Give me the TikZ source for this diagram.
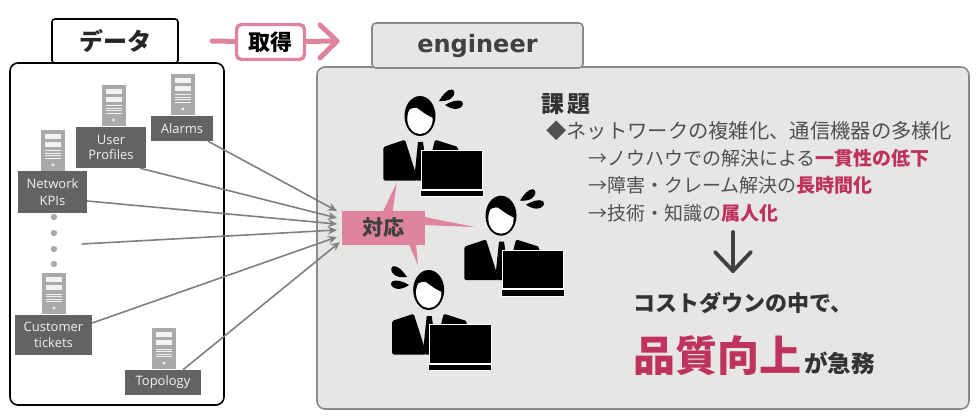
\documentclass[tikz,border=0pt]{standalone}
\usepackage{fontspec}
\setmainfont{Noto Sans CJK JP}
\newfontfamily\lat{Open Sans}
\newfontfamily\eng{DejaVu Sans}
\usetikzlibrary{arrows.meta}
\definecolor{pinkc}{HTML}{DF849D}
\definecolor{redc}{HTML}{BF325C}
\definecolor{panel}{HTML}{E6E6E6}
\definecolor{panelb}{HTML}{8A8A8A}
\definecolor{darkl}{HTML}{636363}
\definecolor{srv}{HTML}{A9A9A9}
\definecolor{txt}{HTML}{404040}
\definecolor{rowc}{HTML}{505050}
\definecolor{conn}{HTML}{808080}
\newcommand{\hl}[1]{{\bfseries\color{redc}#1}}
\newcommand{\lw}[1]{\raisebox{-1pt}{#1}}
\newcommand{\dropshape}{\fill (0,0) .. controls (6,-3.5) and (13,-6) .. (17,-3.5) .. controls (19.5,-1) and (17,3.5) .. (11,4) .. controls (7,4) and (3,2) .. (0,0) -- cycle;}
\tikzset{
  x=1pt,y=-1pt,
  lab/.style={fill=darkl,text=white!95!black,font=\lat\fontsize{13}{16}\selectfont,align=center,inner sep=0pt,minimum width=#1},
  lab/.default=60pt,
  flow/.style={draw=conn,line width=1.6pt,-{Stealth[length=9pt,width=8pt]}},
  rowt/.style={anchor=west,inner sep=0pt,text=rowc,font=\fontsize{19}{19}\selectfont},
  bigt/.style={anchor=west,inner sep=0pt,text=txt},
  pics/server/.style={code={
    \fill[srv] (0,0) rectangle (24,41);
    \fill[white!95!black] (4,4) rectangle (20,8.7);
    \fill[white!95!black] (4,12) rectangle (20,17);
    \fill[white!95!black] (4,20.5) rectangle (20,21.5);
    \fill[white!95!black] (4,23) rectangle (20,24);
    \fill[white!95!black] (4,25.5) rectangle (20,26.5);
    \fill[white!95!black] (4,28) rectangle (20,29);
    \fill[white!95!black] (12,35) circle (1.7);
  }},
  pics/person/.style={code={
    % head
    \fill[black] (0,0) ellipse [x radius=15.5, y radius=20];
    \begin{scope}
      \clip (0,2.5) ellipse [x radius=12.7, y radius=15.5];
      \fill[white] (-14,-5) .. controls (-9,-7) and (-6,-9) .. (-3,-8) .. controls (1,-5) and (6,-1) .. (14,2.5) -- (14,20) -- (-14,20) -- cycle;
    \end{scope}
    % torso
    \fill[black,rounded corners=1.5pt] (-36.7,64.5) -- (-36.7,31) -- (-15,23.7) -- (-5,55) -- (-2.5,64.5) -- cycle;
    \fill[black] (-5,55) -- (-2,26) -- (3,26) -- (5,40) -- (5,64.5) -- (-3,64.5) -- cycle;
    \fill[black,rounded corners=1.5pt] (12,36) -- (15,23.7) -- (38,31) -- (38,40) -- cycle;
    % laptop
    \fill[black,draw=white,line width=0.8pt] (1,34.6) rectangle (62.3,73);
    \fill[black,draw=white,line width=0.8pt] (0,74) rectangle (63,80.3);
  }}
}
\begin{document}
\begin{tikzpicture}
\useasboundingbox (0,0) rectangle (980,417);
\fill[white] (0,0) rectangle (980,417);

% panels
\node[draw=black,fill=white,line width=1.6pt,rounded corners=3pt,minimum width=126pt,minimum height=44pt,inner sep=0pt,font=\bfseries\fontsize{24}{24}\selectfont,text=black!85] (dhead) at (115,41) {データ};
\draw[black,line width=1.6pt,fill=white,rounded corners=8pt] (10,63) rectangle (224,405);
\draw[panelb,line width=1.6pt,fill=panel,rounded corners=8pt] (317,67) rectangle (969,409);
\node[draw=panelb,fill=panel,line width=1.6pt,rounded corners=4pt,minimum width=211pt,minimum height=45pt,inner sep=0pt,font=\eng\bfseries\fontsize{24}{24}\selectfont,text=txt] (enghead) at (477.5,45.5) {engineer};

% acquire arrow
\coordinate (acqstart) at (212,41);
\coordinate (acqtip) at (337,41);
\coordinate (acqa) at (320,25);
\coordinate (acqb) at (320,58);
\node[draw=pinkc,fill=white,line width=3.4pt,rounded corners=5pt,minimum width=68pt,minimum height=35pt,inner sep=0pt,font=\bfseries\fontsize{22}{22}\selectfont,text=black] (acq) at (270.5,42) {取得};
\draw[pinkc,line width=5pt,line cap=round] (acqstart) -- (acq);
\draw[pinkc,line width=5pt,line cap=round] (acq) -- (acqtip);
\draw[pinkc,line width=5pt,line cap=round,line join=round] (acqa) -- (acqtip) -- (acqb);

% servers and labels
\pic at (171,74) {server};
\pic at (101.5,85) {server};
\pic at (41,130) {server};
\pic at (42,273) {server};
\pic at (152,328) {server};
\node[lab=62pt,minimum height=25pt] (alarms) at (182,128.5) {\lw{Alarms}};
\node[lab=70pt,minimum height=41pt] (profiles) at (111,147.5) {\lw{User}\\Profiles};
\node[lab=69pt,minimum height=41pt] (kpis) at (52.5,192) {Network\\\lw{KPIs}};
\node[lab=77pt,minimum height=40pt] (tickets) at (53.5,335) {\lw{Customer}\\\lw{tickets}};
\node[lab=76pt,minimum height=25pt] (topology) at (163,382.5) {\raisebox{-1.5pt}{Topology}};
\foreach \yy in {217,233,249,264} \fill[srv] (54,\yy) circle (3.2);

% people
\pic at (420,116) {person};
\pic at (501,215.7) {person};
\pic at (428.7,290) {person};
\begin{scope}[shift={(439,101)},rotate=30]\dropshape\end{scope}
\begin{scope}[shift={(445,105)}]\dropshape\end{scope}
\begin{scope}[shift={(520,200.7)},rotate=30]\dropshape\end{scope}
\begin{scope}[shift={(526,204.7)}]\dropshape\end{scope}
\begin{scope}[shift={(407,277)},xscale=-1,rotate=27]\dropshape\end{scope}
\begin{scope}[shift={(409,285)},xscale=-1]\dropshape\end{scope}

% connectors
\coordinate (t1) at (337,211);
\coordinate (t2) at (337,218);
\coordinate (t3) at (337,224);
\coordinate (t4) at (337,230);
\coordinate (t5) at (337,237);
\coordinate (t6) at (340,242);
\coordinate (dotsend) at (82,244);
\draw[flow] ([xshift=26pt]alarms.south) -- (t1);
\draw[flow] ([xshift=29pt]profiles.south) -- (t2);
\draw[flow] ([yshift=-9pt]kpis.east) -- (t3);
\draw[flow] (dotsend) -- (t4);
\draw[flow] ([yshift=12pt]tickets.east) -- (t5);
\draw[flow] ([xshift=20pt]topology.north) -- (t6);

% callout
\fill[pinkc] (383,211.5) -- (396.7,182.7) -- (392.7,211.5) -- cycle;
\fill[pinkc] (424.5,217) -- (475,227) -- (424.5,225) -- cycle;
\fill[pinkc] (409,244.5) -- (418,265) -- (416,244.5) -- cycle;
\node[fill=pinkc,minimum width=83pt,minimum height=34pt,inner sep=0pt,font=\fontsize{21}{21}\selectfont\bfseries,text=txt] (taio) at (383.5,228) {対応};

% text
\node[bigt,font=\bfseries\fontsize{23}{23}\selectfont,text=black!80] (kadai) at (541,104.5) {課\hspace{3pt}題};
\node[rowt,font=\fontsize{20.3}{20.3}\selectfont] (r1) at (546,130.5) {◆ネットワークの複雑化、通信機器の多様化};
\node[rowt] (r2) at (588,158) {→ノウハウでの解決による\hl{一貫性の低下}};
\node[rowt] (r3) at (588,185) {→障害・クレーム解決の\hl{長時間化}};
\node[rowt] (r4) at (588,213) {→技術・知識の\hl{属人化}};
\coordinate (dnt) at (733,232);
\coordinate (dnb) at (733,271);
\coordinate (dna) at (715,252);
\coordinate (dnc) at (751,252);
\draw[txt,line width=3.8pt,line cap=round,line join=round] (dnt) -- (dnb);
\draw[txt,line width=3.8pt,line cap=round,line join=round] (dna) -- (dnb) -- (dnc);
\node[bigt,font=\bfseries\fontsize{22}{22}\selectfont,text=black!80] (cost) at (633,303) {コストダウンの中で、};
\node[bigt,font=\bfseries\fontsize{42}{42}\selectfont,text=redc] (hin) at (633,356) {品質向上};
\node[bigt,font=\bfseries\fontsize{23.5}{23.5}\selectfont,text=black!80] (kyu) at (804,363.5) {が急務};
\end{tikzpicture}
\end{document}
